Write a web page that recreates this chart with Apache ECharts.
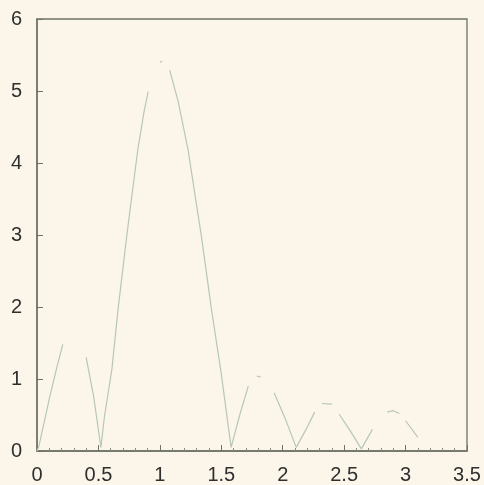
<!DOCTYPE html>
<html>
<head>
<meta charset="utf-8">
<script src="https://cdn.jsdelivr.net/npm/echarts@6/dist/echarts.min.js"></script>
<style>
html,body{margin:0;padding:0;background:#fbf6e9;}
#chart{width:484px;height:485px;}
</style>
</head>
<body>
<div id="chart"></div>
<script>
// Curve samples (null = faded gap in the trace)
const xValues = [0, 0.016, 0.106, 0.16, 0.21, null,
  0.40, 0.46, 0.51, 0.52, 0.55, 0.61, 0.66, 0.73, 0.82, 0.87, 0.905, null,
  1.0, 1.02, null,
  1.08, 1.15, 1.23, 1.34, 1.42, 1.50, 1.58, 1.65, 1.72, null,
  1.79, 1.82, null,
  1.93, 2.02, 2.11, 2.19, 2.26, null,
  2.32, 2.40, null,
  2.46, 2.55, 2.64, 2.73, null,
  2.85, 2.90, 2.95, null,
  3.0, 3.10];
const yValues = [0, 0.07, 0.77, 1.15, 1.48, null,
  1.30, 0.77, 0.17, 0.05, 0.49, 1.14, 1.97, 2.98, 4.18, 4.70, 4.99, null,
  5.40, 5.41, null,
  5.29, 4.85, 4.18, 2.96, 1.97, 1.07, 0.05, 0.50, 0.90, null,
  1.04, 1.03, null,
  0.81, 0.45, 0.05, 0.30, 0.54, null,
  0.66, 0.65, null,
  0.51, 0.28, 0.03, 0.30, null,
  0.54, 0.56, 0.52, null,
  0.42, 0.19];
const xTicks = {min: 0, max: 3.5, interval: 0.5};
const yTicks = {min: 0, max: 6, interval: 1};

const data = xValues.map((x, i) => (x === null ? [null, null] : [x, yValues[i]]));

const chart = echarts.init(document.getElementById('chart'), null, {renderer: 'canvas'});
const axisColor = '#6f7367';
const textStyle = {color: '#2f2f2f', fontSize: 20, fontFamily: 'Liberation Sans'};
chart.setOption({
  backgroundColor: '#fbf6e9',
  animation: false,
  grid: {left: 37, top: 19, right: 17, bottom: 33, show: true, borderColor: axisColor, borderWidth: 1.3, containLabel: false},
  xAxis: {
    type: 'value', min: xTicks.min, max: xTicks.max, interval: xTicks.interval,
    axisLine: {show: true, onZero: false, lineStyle: {color: axisColor, width: 1.5}},
    axisTick: {show: true, inside: true, length: 6, lineStyle: {color: axisColor}},
    minorTick: {show: true, splitNumber: 5, length: 3, lineStyle: {color: '#8a8d80'}},
    splitLine: {show: false},
    axisLabel: Object.assign({margin: 14, formatter: v => String(v)}, textStyle)
  },
  yAxis: {
    type: 'value', min: yTicks.min, max: yTicks.max, interval: yTicks.interval,
    axisLine: {show: true, lineStyle: {color: axisColor, width: 1.5}},
    axisTick: {show: true, inside: true, length: 6, lineStyle: {color: axisColor}},
    splitLine: {show: false},
    axisLabel: Object.assign({margin: 15}, textStyle)
  },
  series: [{
    type: 'line',
    data: data,
    showSymbol: false,
    connectNulls: false,
    lineStyle: {color: '#b7c6b9', width: 1.2},
    silent: true
  }]
});
</script>
</body>
</html>
